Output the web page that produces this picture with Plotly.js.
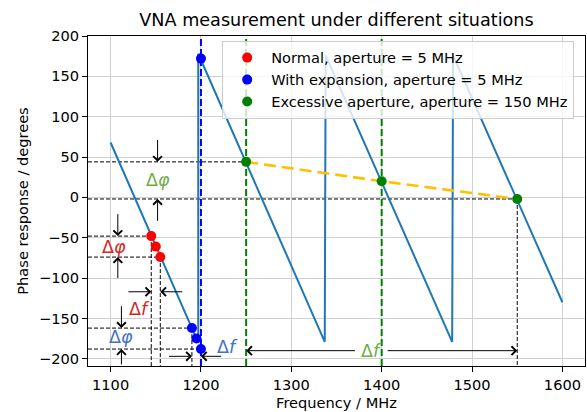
<!DOCTYPE html>
<html>
<head>
<meta charset="utf-8">
<script src="https://cdn.plot.ly/plotly-3.0.1.min.js"></script>
<style>html,body{margin:0;padding:0;background:#fff;}#chart{width:587px;height:412px;}</style>
</head>
<body>
<div id="chart"></div>
<script>
// ---- data ----
const lineFreq  = [1100, 1197, 1197, 1337, 1338, 1478, 1479, 1600];
const linePhase = [68, -180, 178, -179, 176, -179, 176, -130];

const normalFreq  = [1145, 1150, 1155];
const normalPhase = [-48, -61, -74];

const expFreq  = [1190, 1195, 1200, 1200];
const expPhase = [-162, -175, -188, 172];

const excFreq  = [1250, 1400, 1550];
const excPhase = [44, 20, -2];

const xTickVals = [1100, 1200, 1300, 1400, 1500, 1600];
const xTickText = ['1100', '1200', '1300', '1400', '1500', '1600'];
const yTickVals = [-200, -150, -100, -50, 0, 50, 100, 150, 200];
const yTickText = ['\u2212200', '\u2212150', '\u2212100', '\u221250', '0', '50', '100', '150', '200'];

const legendNames = ['Normal, aperture = 5 MHz', 'With expansion, aperture = 5 MHz', 'Excessive aperture, aperture = 150 MHz'];

// annotation arrows: [x, yTail, yHead] for vertical, [y, xTail, xHead] for horizontal
const greenPhiArrows = [[1152, 73, 44], [1152, -31, -2]];
const greenPhiText = [1152, 21];
const redPhiArrows = [[1108, -19, -48], [1108, -102, -74]];
const redPhiText = [1104, -61];
const redFArrows = [[-117, 1118, 1145], [-117, 1181, 1155]];
const redFText = [1132, -138];
const bluePhiArrows = [[1112, -133, -162], [1112, -209, -188]];
const bluePhiText = [1112, -173];
const blueFArrows = [[-197, 1163, 1190], [-197, 1224, 1200]];
const blueFText = [1229, -185];
const greenFArrows = [[-190, 1372, 1250], [-190, 1405, 1550]];
const greenFText = [1389, -190];

const xRange = [1075, 1625];
const yRange = [-209, 200];

const FS = 14.6;

// ---- build traces ----
const traces = [];
const blackDash = {color: 'black', width: 1, dash: '4px,2px'};
function seg(xs, ys, line) {
  traces.push({x: xs, y: ys, mode: 'lines', line: line, showlegend: false, hoverinfo: 'skip'});
}
function guides(fx, fy, horiz, vert) {
  if (horiz) seg([xRange[0], fx], [fy, fy], blackDash);
  if (vert) seg([fx, fx], [fy, yRange[0]], blackDash);
}
guides(normalFreq[0], normalPhase[0], true, true);
guides(normalFreq[2], normalPhase[2], true, true);
guides(expFreq[0], expPhase[0], true, true);
guides(expFreq[2], expPhase[2], true, false);
guides(excFreq[0], excPhase[0], true, false);
guides(excFreq[2], excPhase[2], true, true);

seg([expFreq[2], expFreq[2]], yRange, {color: 'blue', width: 2, dash: '7px,3px'});
seg([excFreq[0], excFreq[0]], yRange, {color: 'green', width: 2, dash: '7px,3px'});
seg([excFreq[1], excFreq[1]], yRange, {color: 'green', width: 2, dash: '7px,3px'});

traces.push({x: lineFreq, y: linePhase, mode: 'lines', line: {color: '#1f77b4', width: 2}, showlegend: false, hoverinfo: 'skip'});
traces.push({x: excFreq, y: excPhase, mode: 'lines', line: {color: '#FFC000', width: 2.6, dash: '12px,6px'}, showlegend: false, hoverinfo: 'skip'});

traces.push({x: normalFreq, y: normalPhase, mode: 'markers', name: legendNames[0], marker: {color: 'red', size: 10}});
traces.push({x: expFreq, y: expPhase, mode: 'markers', name: legendNames[1], marker: {color: 'blue', size: 10}});
traces.push({x: excFreq, y: excPhase, mode: 'markers', name: legendNames[2], marker: {color: 'green', size: 10}});

// ---- annotations ----
const annotations = [];
function arrowV(a) {
  annotations.push({x: a[0], y: a[2], ax: a[0], ay: a[1], xref: 'x', yref: 'y', axref: 'x', ayref: 'y',
    text: '', showarrow: true, arrowhead: 4, arrowsize: 1.7, arrowwidth: 1, arrowcolor: 'black', standoff: 0});
}
function arrowH(a) {
  annotations.push({x: a[2], y: a[0], ax: a[1], ay: a[0], xref: 'x', yref: 'y', axref: 'x', ayref: 'y',
    text: '', showarrow: true, arrowhead: 4, arrowsize: 1.7, arrowwidth: 1, arrowcolor: 'black', standoff: 0});
}
function label(p, txt, color) {
  annotations.push({x: p[0], y: p[1], xref: 'x', yref: 'y', text: txt, showarrow: false,
    font: {family: 'DejaVu Sans', size: 17.5, color: color}, xanchor: 'center', yanchor: 'middle'});
}
greenPhiArrows.forEach(arrowV); redPhiArrows.forEach(arrowV); bluePhiArrows.forEach(arrowV);
redFArrows.forEach(arrowH); blueFArrows.forEach(arrowH); greenFArrows.forEach(arrowH);
const PHI = '\u0394<i>\u03c6</i>';
const DF = '\u0394<i>f</i>';
label(greenPhiText, PHI, '#70AD47');
label(redPhiText, PHI, '#d62728');
label(redFText, DF, '#d62728');
label(bluePhiText, PHI, '#4472C4');
label(blueFText, DF, '#4472C4');
label(greenFText, DF, '#70AD47');

const axisCommon = {
  showgrid: true, gridcolor: '#d0d0d0', gridwidth: 1, zeroline: false,
  showline: true, mirror: true, linecolor: 'black', linewidth: 1,
  ticks: 'outside', ticklen: 5, tickcolor: 'black', tickwidth: 1,
  tickfont: {family: 'DejaVu Sans', size: FS, color: 'black'}
};

const layout = {
  width: 587, height: 412,
  margin: {l: 88, r: 2, t: 36, b: 46},
  paper_bgcolor: 'white', plot_bgcolor: 'white',
  font: {family: 'DejaVu Sans', size: FS, color: 'black'},
  title: {text: 'VNA measurement under different situations', font: {family: 'DejaVu Sans', size: 17.6, color: 'black'},
    x: 0.5, xref: 'paper', xanchor: 'center', y: 1 - 20 / 412, yref: 'container', yanchor: 'middle'},
  xaxis: Object.assign({}, axisCommon, {range: xRange, tickvals: xTickVals, ticktext: xTickText,
    title: {text: 'Frequency / MHz', font: {family: 'DejaVu Sans', size: FS, color: 'black'}, standoff: 6}}),
  yaxis: Object.assign({}, axisCommon, {range: yRange, tickvals: yTickVals, ticktext: yTickText,
    title: {text: 'Phase response / degrees', font: {family: 'DejaVu Sans', size: FS, color: 'black'}, standoff: 6}}),
  showlegend: true,
  legend: {x: 0.27, y: 0.986, xanchor: 'left', yanchor: 'top', bgcolor: 'rgba(255,255,255,0.8)',
    bordercolor: '#cccccc', borderwidth: 1, itemwidth: 38,
    font: {family: 'DejaVu Sans', size: FS, color: 'black'}},
  annotations: annotations
};

Plotly.newPlot('chart', traces, layout, {displayModeBar: false, staticPlot: true});
</script>
</body>
</html>
